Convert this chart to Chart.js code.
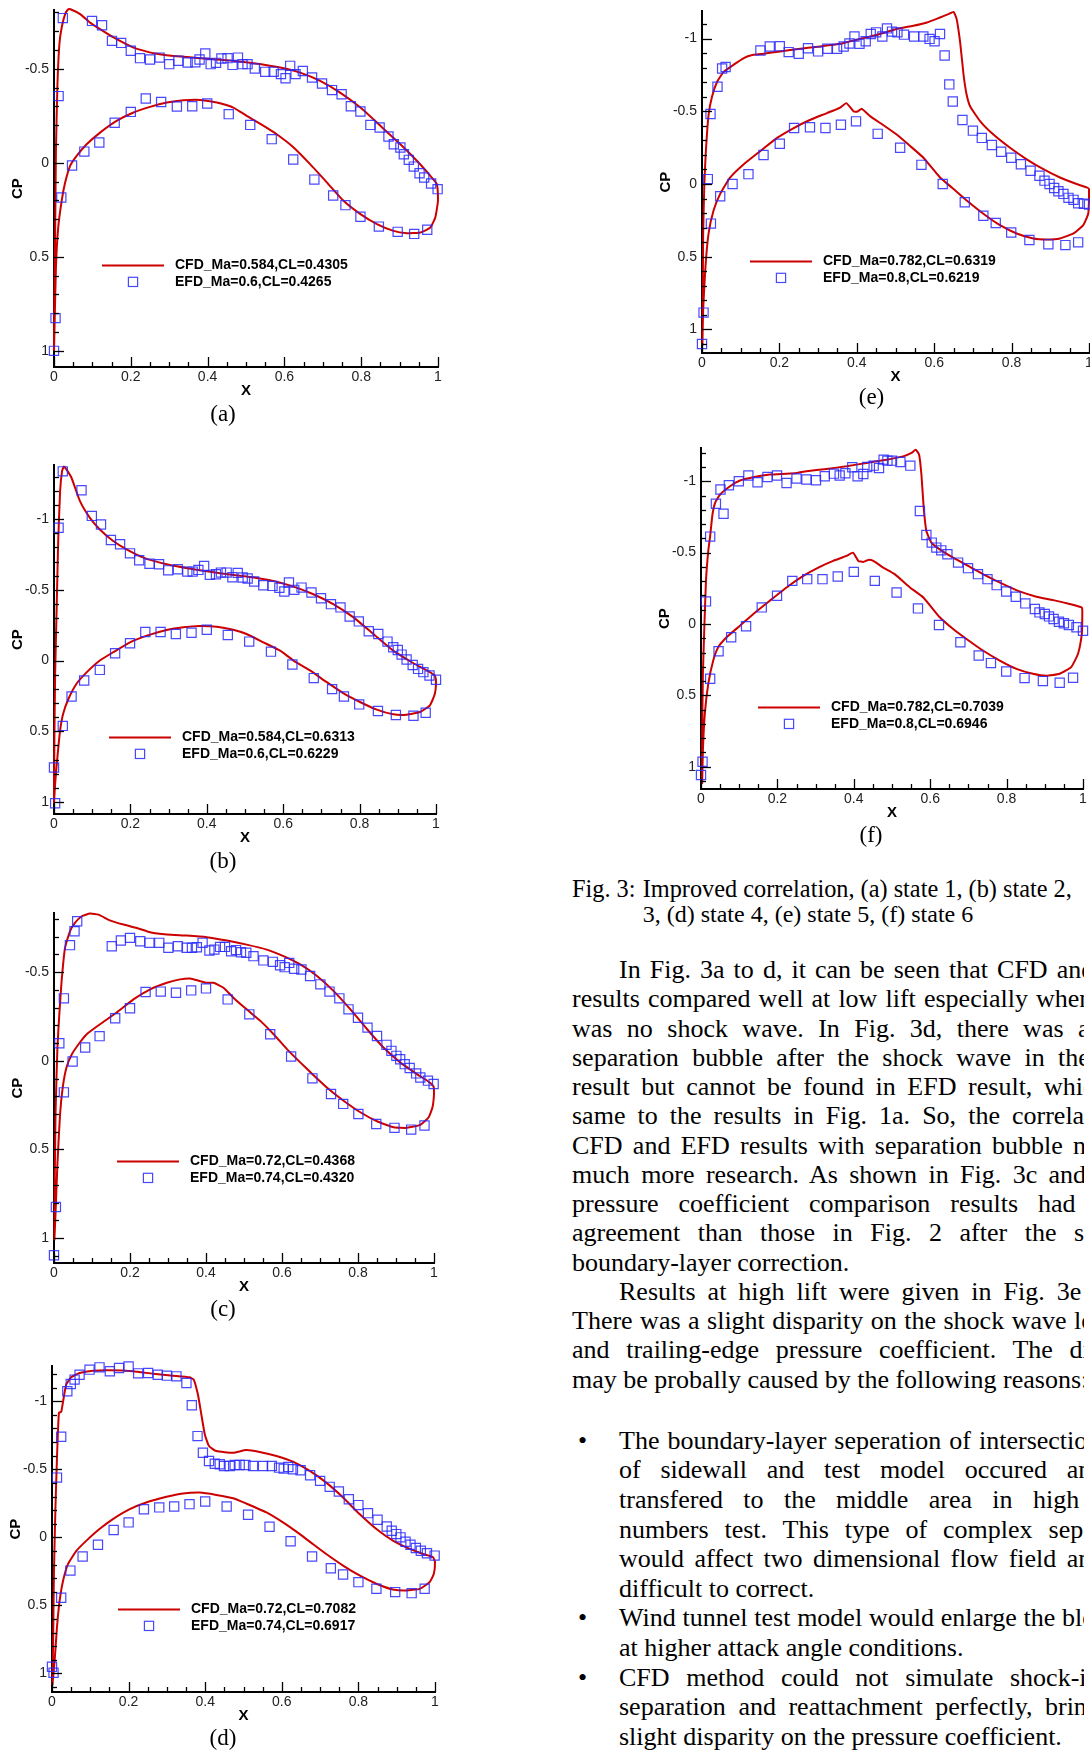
<!DOCTYPE html>
<html>
<head>
<meta charset="utf-8">
<script src="https://cdn.jsdelivr.net/npm/chart.js@4.4.1/dist/chart.umd.min.js"></script>
<style>
    body { margin: 0; background: #fff; }
    #page { position: relative; width: 1090px; height: 1752px; overflow: hidden; background: #fff; }
    #page canvas { position: absolute; }
    #column { position: absolute; left: 0; top: 0; width: 1084px; height: 1752px; overflow: hidden; }
    .txt { position: absolute; white-space: nowrap; color: #000; font-family: "Liberation Serif", "Times New Roman", serif; }
</style>
</head>
<body>
<div id="page"><div id="column"></div></div>
<script>
// x stations and Cp, one pair [x, Cp] per point
const xTicks = [0, 0.2, 0.4, 0.6, 0.8, 1];

const cfdA = [[0,1.0],[0.001,0.734],[0.003,0.379],[0.005,-0.064],[0.009,-0.418],[0.014,-0.631],[0.02,-0.72],[0.029,-0.791],[0.037,-0.817],[0.043,-0.817],[0.068,-0.791],[0.094,-0.746],[0.12,-0.711],[0.155,-0.667],[0.207,-0.613],[0.259,-0.583],[0.311,-0.569],[0.381,-0.557],[0.45,-0.546],[0.52,-0.53],[0.589,-0.507],[0.641,-0.48],[0.693,-0.436],[0.745,-0.374],[0.798,-0.294],[0.85,-0.197],[0.902,-0.099],[0.945,-0.011],[0.98,0.069],[0.997,0.113],[1.0,0.2],[0.993,0.29],[0.98,0.344],[0.954,0.371],[0.919,0.374],[0.884,0.362],[0.841,0.326],[0.798,0.273],[0.754,0.202],[0.711,0.105],[0.667,0.007],[0.624,-0.082],[0.58,-0.152],[0.546,-0.197],[0.502,-0.25],[0.467,-0.294],[0.424,-0.321],[0.381,-0.335],[0.337,-0.333],[0.294,-0.321],[0.25,-0.298],[0.207,-0.268],[0.163,-0.223],[0.12,-0.161],[0.085,-0.099],[0.059,-0.037],[0.042,0.016],[0.029,0.105],[0.02,0.202],[0.011,0.344],[0.005,0.557],[0.001,0.911],[0,1.0]];
const efdA = [[0,1.0],[0.004,0.826],[0.012,-0.355],[0.023,-0.77],[0.099,-0.755],[0.125,-0.732],[0.151,-0.649],[0.175,-0.638],[0.2,-0.596],[0.224,-0.557],[0.25,-0.55],[0.275,-0.56],[0.3,-0.525],[0.324,-0.543],[0.348,-0.534],[0.368,-0.535],[0.379,-0.55],[0.394,-0.582],[0.408,-0.525],[0.422,-0.532],[0.436,-0.555],[0.452,-0.557],[0.465,-0.521],[0.479,-0.56],[0.491,-0.525],[0.504,-0.525],[0.523,-0.502],[0.55,-0.484],[0.572,-0.484],[0.591,-0.472],[0.603,-0.45],[0.615,-0.516],[0.629,-0.472],[0.648,-0.489],[0.672,-0.454],[0.698,-0.422],[0.724,-0.387],[0.749,-0.365],[0.773,-0.301],[0.798,-0.273],[0.824,-0.202],[0.848,-0.188],[0.871,-0.14],[0.885,-0.099],[0.902,-0.082],[0.911,-0.046],[0.924,-0.016],[0.937,0.02],[0.952,0.055],[0.964,0.078],[0.982,0.11],[0.999,0.14],[0.019,0.184],[0.047,0.014],[0.079,-0.06],[0.118,-0.108],[0.158,-0.213],[0.2,-0.271],[0.239,-0.342],[0.279,-0.324],[0.32,-0.3],[0.36,-0.301],[0.399,-0.316],[0.455,-0.259],[0.511,-0.202],[0.567,-0.126],[0.623,-0.018],[0.678,0.089],[0.727,0.174],[0.759,0.225],[0.798,0.287],[0.846,0.339],[0.895,0.367],[0.938,0.378],[0.972,0.356]];

const cfdB = [[0,1.009],[0.001,0.563],[0.003,0.094],[0.007,-0.376],[0.011,-0.845],[0.016,-1.197],[0.021,-1.338],[0.026,-1.373],[0.033,-1.35],[0.046,-1.291],[0.068,-1.127],[0.094,-1.009],[0.12,-0.927],[0.155,-0.845],[0.19,-0.786],[0.234,-0.728],[0.295,-0.681],[0.365,-0.646],[0.435,-0.617],[0.504,-0.594],[0.574,-0.563],[0.627,-0.523],[0.679,-0.469],[0.731,-0.399],[0.784,-0.305],[0.836,-0.188],[0.888,-0.07],[0.941,0.019],[0.976,0.07],[0.997,0.106],[1.0,0.141],[0.997,0.235],[0.984,0.317],[0.958,0.364],[0.923,0.383],[0.888,0.38],[0.845,0.347],[0.801,0.293],[0.757,0.23],[0.714,0.153],[0.67,0.07],[0.627,0.0],[0.592,-0.07],[0.548,-0.129],[0.504,-0.188],[0.469,-0.218],[0.426,-0.239],[0.382,-0.244],[0.339,-0.235],[0.295,-0.216],[0.243,-0.176],[0.199,-0.129],[0.155,-0.059],[0.12,0.0],[0.086,0.082],[0.059,0.164],[0.038,0.27],[0.024,0.376],[0.016,0.493],[0.009,0.681],[0.003,0.869],[0,1.009]];
const efdB = [[0.003,1.009],[0,0.756],[0.012,-0.939],[0.023,-1.338],[0.072,-1.204],[0.099,-1.023],[0.123,-0.962],[0.149,-0.852],[0.173,-0.822],[0.199,-0.758],[0.223,-0.709],[0.25,-0.685],[0.275,-0.681],[0.299,-0.638],[0.324,-0.646],[0.349,-0.629],[0.363,-0.629],[0.378,-0.641],[0.393,-0.669],[0.408,-0.606],[0.424,-0.61],[0.437,-0.622],[0.452,-0.622],[0.467,-0.589],[0.481,-0.62],[0.494,-0.587],[0.507,-0.58],[0.524,-0.559],[0.548,-0.533],[0.572,-0.528],[0.59,-0.514],[0.603,-0.488],[0.615,-0.552],[0.629,-0.5],[0.648,-0.516],[0.674,-0.481],[0.699,-0.441],[0.725,-0.399],[0.75,-0.376],[0.774,-0.312],[0.798,-0.277],[0.824,-0.207],[0.849,-0.188],[0.873,-0.134],[0.888,-0.094],[0.9,-0.075],[0.91,-0.042],[0.923,-0.007],[0.939,0.031],[0.953,0.059],[0.967,0.082],[0.983,0.106],[1.0,0.136],[0.023,0.462],[0.046,0.254],[0.079,0.141],[0.12,0.066],[0.16,-0.052],[0.199,-0.122],[0.239,-0.202],[0.279,-0.202],[0.319,-0.188],[0.36,-0.197],[0.4,-0.218],[0.455,-0.181],[0.511,-0.134],[0.568,-0.063],[0.624,0.028],[0.68,0.124],[0.728,0.202],[0.759,0.254],[0.799,0.31],[0.848,0.357],[0.895,0.385],[0.941,0.39],[0.973,0.369]];

const cfdC = [[0.001,1.011],[0.002,0.674],[0.004,0.3],[0.009,-0.075],[0.014,-0.262],[0.02,-0.449],[0.029,-0.637],[0.042,-0.73],[0.055,-0.777],[0.073,-0.815],[0.095,-0.83],[0.117,-0.824],[0.147,-0.792],[0.183,-0.768],[0.218,-0.749],[0.253,-0.725],[0.297,-0.712],[0.349,-0.706],[0.402,-0.697],[0.455,-0.678],[0.507,-0.655],[0.56,-0.627],[0.604,-0.59],[0.648,-0.543],[0.692,-0.478],[0.736,-0.393],[0.78,-0.29],[0.824,-0.178],[0.867,-0.075],[0.911,0.009],[0.955,0.075],[0.986,0.118],[0.999,0.146],[1.0,0.187],[0.996,0.262],[0.986,0.318],[0.964,0.361],[0.929,0.378],[0.894,0.375],[0.85,0.341],[0.806,0.29],[0.762,0.225],[0.718,0.15],[0.683,0.081],[0.648,0.009],[0.613,-0.066],[0.578,-0.15],[0.543,-0.225],[0.507,-0.29],[0.472,-0.356],[0.446,-0.412],[0.42,-0.44],[0.402,-0.44],[0.385,-0.449],[0.358,-0.464],[0.332,-0.459],[0.297,-0.44],[0.253,-0.403],[0.209,-0.346],[0.165,-0.272],[0.121,-0.206],[0.086,-0.15],[0.068,-0.103],[0.047,-0.037],[0.033,0.037],[0.023,0.15],[0.016,0.3],[0.009,0.581],[0.004,0.861],[0.001,1.011]];
const efdC = [[0,1.096],[0.005,0.824],[0.014,-0.099],[0.026,-0.352],[0.042,-0.652],[0.054,-0.73],[0.061,-0.787],[0.152,-0.646],[0.176,-0.678],[0.2,-0.693],[0.227,-0.674],[0.251,-0.665],[0.277,-0.665],[0.301,-0.637],[0.326,-0.646],[0.349,-0.637],[0.363,-0.637],[0.376,-0.64],[0.391,-0.665],[0.409,-0.622],[0.422,-0.627],[0.437,-0.642],[0.45,-0.642],[0.466,-0.618],[0.479,-0.624],[0.492,-0.612],[0.506,-0.609],[0.525,-0.59],[0.551,-0.566],[0.576,-0.558],[0.595,-0.539],[0.607,-0.528],[0.619,-0.552],[0.632,-0.519],[0.651,-0.515],[0.674,-0.478],[0.701,-0.431],[0.725,-0.39],[0.751,-0.352],[0.775,-0.29],[0.8,-0.243],[0.825,-0.187],[0.85,-0.14],[0.875,-0.09],[0.888,-0.056],[0.901,-0.028],[0.911,-0.009],[0.923,0.019],[0.936,0.041],[0.953,0.071],[0.964,0.094],[0.984,0.112],[0.999,0.131],[0.026,0.178],[0.049,0.004],[0.082,-0.075],[0.12,-0.139],[0.161,-0.24],[0.2,-0.296],[0.241,-0.388],[0.281,-0.39],[0.321,-0.384],[0.361,-0.397],[0.4,-0.408],[0.457,-0.346],[0.514,-0.262],[0.569,-0.15],[0.624,-0.024],[0.68,0.099],[0.729,0.187],[0.761,0.243],[0.801,0.3],[0.848,0.356],[0.896,0.378],[0.94,0.388],[0.975,0.365]];

const cfdD = [[0.001,1.085],[0.003,0.756],[0.005,0.268],[0.009,-0.22],[0.013,-0.585],[0.018,-0.915],[0.024,-0.922],[0.029,-1.0],[0.037,-1.122],[0.05,-1.176],[0.072,-1.207],[0.107,-1.224],[0.151,-1.227],[0.211,-1.22],[0.264,-1.202],[0.316,-1.188],[0.359,-1.176],[0.37,-1.159],[0.381,-1.049],[0.39,-0.902],[0.399,-0.756],[0.41,-0.671],[0.429,-0.634],[0.473,-0.622],[0.507,-0.641],[0.542,-0.627],[0.586,-0.598],[0.629,-0.556],[0.673,-0.488],[0.716,-0.402],[0.76,-0.293],[0.803,-0.171],[0.847,-0.061],[0.89,0.024],[0.934,0.085],[0.969,0.122],[0.995,0.146],[1.0,0.183],[0.997,0.268],[0.986,0.329],[0.96,0.378],[0.925,0.39],[0.89,0.383],[0.847,0.341],[0.803,0.28],[0.76,0.207],[0.716,0.122],[0.681,0.049],[0.647,-0.024],[0.603,-0.11],[0.56,-0.183],[0.507,-0.249],[0.473,-0.288],[0.429,-0.312],[0.386,-0.329],[0.342,-0.322],[0.299,-0.298],[0.246,-0.256],[0.203,-0.207],[0.159,-0.134],[0.124,-0.061],[0.09,0.024],[0.064,0.098],[0.042,0.195],[0.029,0.317],[0.02,0.463],[0.013,0.659],[0.007,0.902],[0.001,1.085]];
const efdD = [[0,0.951],[0.004,0.995],[0.013,-0.439],[0.024,-0.739],[0.04,-1.073],[0.049,-1.127],[0.059,-1.159],[0.072,-1.195],[0.098,-1.232],[0.124,-1.249],[0.151,-1.22],[0.175,-1.244],[0.2,-1.256],[0.225,-1.205],[0.251,-1.207],[0.276,-1.195],[0.3,-1.188],[0.325,-1.183],[0.351,-1.134],[0.365,-0.971],[0.38,-0.744],[0.394,-0.622],[0.41,-0.561],[0.425,-0.541],[0.438,-0.537],[0.449,-0.524],[0.464,-0.524],[0.477,-0.532],[0.49,-0.532],[0.505,-0.532],[0.525,-0.524],[0.551,-0.524],[0.574,-0.524],[0.593,-0.512],[0.605,-0.505],[0.617,-0.517],[0.629,-0.5],[0.649,-0.493],[0.674,-0.456],[0.7,-0.415],[0.725,-0.371],[0.749,-0.337],[0.775,-0.28],[0.8,-0.237],[0.825,-0.178],[0.85,-0.129],[0.874,-0.08],[0.887,-0.049],[0.899,-0.024],[0.91,0.0],[0.923,0.032],[0.936,0.054],[0.95,0.078],[0.963,0.098],[0.979,0.117],[0.999,0.134],[0.024,0.444],[0.048,0.244],[0.08,0.141],[0.12,0.054],[0.161,-0.054],[0.2,-0.11],[0.24,-0.207],[0.28,-0.22],[0.319,-0.227],[0.359,-0.244],[0.4,-0.263],[0.456,-0.227],[0.512,-0.166],[0.568,-0.078],[0.623,0.029],[0.679,0.141],[0.728,0.227],[0.76,0.273],[0.8,0.329],[0.847,0.378],[0.896,0.402],[0.939,0.41],[0.973,0.378]];

const cfdE = [[0.001,1.111],[0.002,0.794],[0.003,0.34],[0.006,0.0],[0.01,-0.227],[0.017,-0.476],[0.026,-0.601],[0.039,-0.703],[0.056,-0.771],[0.082,-0.821],[0.108,-0.866],[0.125,-0.884],[0.159,-0.896],[0.202,-0.912],[0.254,-0.93],[0.306,-0.946],[0.357,-0.964],[0.409,-0.998],[0.46,-1.032],[0.503,-1.066],[0.546,-1.088],[0.581,-1.111],[0.615,-1.145],[0.637,-1.168],[0.65,-1.184],[0.658,-1.134],[0.667,-0.975],[0.676,-0.748],[0.684,-0.612],[0.693,-0.533],[0.719,-0.431],[0.753,-0.34],[0.796,-0.249],[0.839,-0.17],[0.882,-0.102],[0.925,-0.045],[0.968,0.0],[0.994,0.023],[1.0,0.034],[1.0,0.113],[0.998,0.204],[0.985,0.283],[0.96,0.34],[0.925,0.374],[0.891,0.381],[0.856,0.374],[0.813,0.34],[0.77,0.283],[0.727,0.204],[0.684,0.113],[0.65,0.034],[0.615,-0.045],[0.572,-0.181],[0.538,-0.261],[0.503,-0.34],[0.469,-0.404],[0.435,-0.465],[0.413,-0.517],[0.402,-0.499],[0.392,-0.499],[0.373,-0.556],[0.357,-0.526],[0.323,-0.488],[0.28,-0.442],[0.237,-0.385],[0.194,-0.317],[0.151,-0.227],[0.108,-0.136],[0.073,-0.045],[0.047,0.068],[0.03,0.181],[0.017,0.34],[0.009,0.567],[0.003,0.862],[0.001,1.111]];
const efdE = [[0,1.1],[0.004,0.884],[0.015,-0.034],[0.022,-0.481],[0.04,-0.669],[0.052,-0.794],[0.061,-0.805],[0.151,-0.918],[0.175,-0.946],[0.201,-0.948],[0.224,-0.907],[0.25,-0.896],[0.274,-0.934],[0.3,-0.912],[0.324,-0.93],[0.349,-0.93],[0.366,-0.946],[0.381,-0.966],[0.394,-1.014],[0.407,-0.964],[0.423,-0.982],[0.436,-1.032],[0.45,-1.043],[0.466,-1.014],[0.478,-1.07],[0.491,-1.048],[0.505,-1.043],[0.522,-1.027],[0.548,-1.014],[0.572,-1.014],[0.588,-0.998],[0.601,-0.982],[0.615,-1.032],[0.627,-0.884],[0.639,-0.685],[0.648,-0.567],[0.673,-0.44],[0.7,-0.367],[0.723,-0.317],[0.749,-0.268],[0.773,-0.222],[0.799,-0.181],[0.824,-0.136],[0.849,-0.091],[0.872,-0.057],[0.885,-0.023],[0.898,0.0],[0.91,0.027],[0.921,0.05],[0.934,0.068],[0.947,0.095],[0.96,0.109],[0.972,0.132],[0.987,0.136],[1.0,0.141],[0.023,0.272],[0.047,0.084],[0.079,0.0],[0.12,-0.068],[0.159,-0.2],[0.201,-0.277],[0.238,-0.385],[0.279,-0.39],[0.319,-0.385],[0.359,-0.408],[0.398,-0.431],[0.454,-0.345],[0.512,-0.249],[0.567,-0.132],[0.622,0.0],[0.679,0.125],[0.727,0.218],[0.759,0.268],[0.799,0.333],[0.846,0.385],[0.895,0.415],[0.939,0.42],[0.972,0.401]];

const cfdF = [[0.003,1.12],[0.003,0.814],[0.005,0.349],[0.009,0.0],[0.013,-0.302],[0.019,-0.512],[0.024,-0.616],[0.03,-0.767],[0.037,-0.849],[0.05,-0.907],[0.076,-0.965],[0.102,-1.005],[0.137,-1.028],[0.18,-1.047],[0.224,-1.053],[0.25,-1.058],[0.276,-1.07],[0.329,-1.086],[0.381,-1.105],[0.433,-1.128],[0.486,-1.151],[0.529,-1.174],[0.551,-1.198],[0.562,-1.221],[0.571,-1.186],[0.577,-1.047],[0.583,-0.814],[0.59,-0.651],[0.603,-0.57],[0.625,-0.523],[0.66,-0.465],[0.704,-0.4],[0.747,-0.337],[0.791,-0.279],[0.834,-0.228],[0.878,-0.191],[0.922,-0.167],[0.965,-0.14],[0.996,-0.116],[0.998,-0.105],[0.998,-0.023],[0.997,0.07],[0.987,0.209],[0.969,0.302],[0.939,0.349],[0.904,0.363],[0.869,0.349],[0.826,0.314],[0.782,0.256],[0.738,0.186],[0.695,0.105],[0.66,0.035],[0.625,-0.047],[0.582,-0.186],[0.547,-0.256],[0.507,-0.349],[0.477,-0.395],[0.451,-0.442],[0.438,-0.449],[0.425,-0.435],[0.412,-0.442],[0.398,-0.5],[0.381,-0.477],[0.346,-0.442],[0.311,-0.4],[0.268,-0.337],[0.224,-0.256],[0.18,-0.163],[0.137,-0.07],[0.102,0.012],[0.067,0.093],[0.045,0.163],[0.032,0.256],[0.019,0.419],[0.01,0.628],[0.005,0.884],[0.003,1.12]];
const efdF = [[0,1.058],[0.004,0.965],[0.013,-0.158],[0.024,-0.612],[0.039,-0.842],[0.051,-0.942],[0.059,-0.772],[0.073,-0.972],[0.099,-1.0],[0.124,-1.04],[0.148,-0.993],[0.174,-1.03],[0.199,-1.04],[0.224,-0.988],[0.25,-1.019],[0.276,-1.012],[0.301,-1.007],[0.324,-1.035],[0.348,-1.053],[0.363,-1.04],[0.378,-1.056],[0.396,-1.098],[0.41,-1.035],[0.425,-1.051],[0.435,-1.1],[0.452,-1.109],[0.466,-1.093],[0.478,-1.151],[0.488,-1.144],[0.5,-1.144],[0.522,-1.135],[0.548,-1.109],[0.573,-0.791],[0.59,-0.623],[0.604,-0.57],[0.616,-0.535],[0.629,-0.516],[0.645,-0.488],[0.673,-0.43],[0.699,-0.391],[0.725,-0.349],[0.75,-0.314],[0.774,-0.272],[0.799,-0.228],[0.824,-0.191],[0.849,-0.144],[0.874,-0.105],[0.886,-0.081],[0.9,-0.07],[0.911,-0.053],[0.923,-0.035],[0.937,-0.016],[0.95,-0.005],[0.963,0.007],[0.983,0.023],[1.0,0.047],[0.024,0.384],[0.046,0.191],[0.079,0.093],[0.118,0.016],[0.159,-0.116],[0.199,-0.198],[0.239,-0.302],[0.278,-0.314],[0.318,-0.314],[0.358,-0.333],[0.4,-0.365],[0.455,-0.302],[0.512,-0.221],[0.568,-0.109],[0.623,0.007],[0.679,0.128],[0.727,0.221],[0.759,0.274],[0.799,0.333],[0.847,0.379],[0.895,0.4],[0.939,0.412],[0.974,0.377]];

// plot boxes in page pixels (left, right, top, bottom) and the Cp range they cover
const panels = [
    { tag: '(a)', box: [54, 438, 9, 367], yMin: -0.811, yMax: 1.086, yTicks: [-0.5, 0, 0.5, 1],
      cfd: cfdA, efd: efdA, names: ['CFD_Ma=0.584,CL=0.4305', 'EFD_Ma=0.6,CL=0.4265'], legend: [48, 255], cap: [223, 414] },
    { tag: '(b)', box: [54, 436, 464, 814], yMin: -1.38, yMax: 1.085, yTicks: [-1, -0.5, 0, 0.5, 1],
      cfd: cfdB, efd: efdB, names: ['CFD_Ma=0.584,CL=0.6313', 'EFD_Ma=0.6,CL=0.6229'], legend: [55, 272], cap: [223, 861] },
    { tag: '(c)', box: [54, 434, 912, 1263], yMin: -0.831, yMax: 1.14, yTicks: [-0.5, 0, 0.5, 1],
      cfd: cfdC, efd: efdC, names: ['CFD_Ma=0.72,CL=0.4368', 'EFD_Ma=0.74,CL=0.4320'], legend: [63, 248], cap: [223, 1309] },
    { tag: '(d)', box: [52, 435, 1365, 1692], yMin: -1.256, yMax: 1.136, yTicks: [-1, -0.5, 0, 0.5, 1],
      cfd: cfdD, efd: efdD, names: ['CFD_Ma=0.72,CL=0.7082', 'EFD_Ma=0.74,CL=0.6917'], legend: [66, 243], cap: [223, 1738] },
    { tag: '(e)', box: [702, 1089, 10, 353], yMin: -1.187, yMax: 1.162, yTicks: [-1, -0.5, 0, 0.5, 1],
      cfd: cfdE, efd: efdE, names: ['CFD_Ma=0.782,CL=0.6319', 'EFD_Ma=0.8,CL=0.6219'], legend: [48, 250], cap: [871.5, 397] },
    { tag: '(f)', box: [701, 1083, 447, 789], yMin: -1.23, yMax: 1.156, yTicks: [-1, -0.5, 0, 0.5, 1],
      cfd: cfdF, efd: efdF, names: ['CFD_Ma=0.782,CL=0.7039', 'EFD_Ma=0.8,CL=0.6946'], legend: [57, 259], cap: [871, 835] }
];

const RED = '#cc0000';
const BLUE = 'rgba(40,40,255,0.85)';
const page = document.getElementById('page');
const column = document.getElementById('column');

Chart.defaults.font.family = '"Liberation Sans", Arial, sans-serif';

// inward ticks (Tecplot style) and the two-row legend
const cpDecor = {
    id: 'cpDecor',
    afterDraw(chart, args, opts) {
        const ctx = chart.ctx;
        const area = chart.chartArea;
        const xs = chart.scales.x, ys = chart.scales.y;
        ctx.save();
        ctx.strokeStyle = '#000';
        ctx.lineWidth = 1.3;
        for (let i = 0; i <= 20; i++) {
            const px = Math.round(xs.getPixelForValue(i / 20)) + 0.5;
            const len = i % 4 === 0 ? 10 : 5;
            ctx.beginPath();
            ctx.moveTo(px, area.bottom);
            ctx.lineTo(px, area.bottom - len);
            ctx.stroke();
        }
        for (let k = Math.ceil(ys.min * 10); k <= Math.floor(ys.max * 10); k++) {
            const py = Math.round(ys.getPixelForValue(k / 10)) + 0.5;
            const len = k % 5 === 0 ? 10 : 5;
            ctx.beginPath();
            ctx.moveTo(area.left, py);
            ctx.lineTo(area.left + len, py);
            ctx.stroke();
        }

        const lx = area.left + opts.at[0];
        const ly = area.top + opts.at[1];
        const names = chart.data.datasets.map(d => d.label);
        ctx.strokeStyle = RED;
        ctx.lineWidth = 2;
        ctx.beginPath();
        ctx.moveTo(lx, ly);
        ctx.lineTo(lx + 62, ly);
        ctx.stroke();
        ctx.strokeStyle = BLUE;
        ctx.lineWidth = 1.2;
        ctx.strokeRect(lx + 31 - 4.6, ly + 16.5 - 4.6, 9.2, 9.2);
        ctx.fillStyle = '#000';
        ctx.font = 'bold 14px "Liberation Sans", Arial, sans-serif';
        ctx.textBaseline = 'middle';
        ctx.fillText(names[1], lx + 73, ly);
        ctx.fillText(names[0], lx + 73, ly + 16.5);
        ctx.restore();
    }
};

panels.forEach(p => {
    const [L, R, T, B] = p.box;
    const canvas = document.createElement('canvas');
    canvas.width = R - L + 64;
    canvas.height = B - T + 60;
    canvas.style.left = (L - 50) + 'px';
    canvas.style.top = (T - 12) + 'px';
    page.appendChild(canvas);

    new Chart(canvas.getContext('2d'), {
        type: 'scatter',
        data: {
            datasets: [{
                label: p.names[1],
                data: p.efd.map(d => ({ x: d[0], y: d[1] })),
                pointStyle: 'rect',
                pointRadius: 6.5,
                borderColor: BLUE,
                borderWidth: 1.2,
                backgroundColor: 'rgba(0,0,0,0)',
                clip: false,
                order: 1
            }, {
                label: p.names[0],
                data: p.cfd.map(d => ({ x: d[0], y: d[1] })),
                showLine: true,
                borderColor: RED,
                borderWidth: 2,
                pointRadius: 0,
                tension: 0.15,
                clip: false,
                order: 2
            }]
        },
        options: {
            responsive: false,
            animation: false,
            events: [],
            layout: { padding: { top: 12, right: 14, left: 0, bottom: 0 } },
            scales: {
                x: {
                    type: 'linear', min: 0, max: 1,
                    grid: { display: false, drawTicks: false },
                    border: { display: true, color: '#000', width: 2 },
                    afterBuildTicks: s => { s.ticks = xTicks.map(v => ({ value: v })); },
                    afterFit: s => { s.height = 48; },
                    ticks: { padding: 2, color: '#222', font: { size: 14 }, autoSkip: false, maxRotation: 0, callback: v => String(v) },
                    title: { display: true, text: 'X', color: '#000', font: { size: 15, weight: 'bold' }, padding: { top: 0, bottom: 15.5 } }
                },
                y: {
                    type: 'linear', reverse: true, min: p.yMin, max: p.yMax,
                    grid: { display: false, drawTicks: false },
                    border: { display: true, color: '#000', width: 2 },
                    afterBuildTicks: s => { s.ticks = p.yTicks.map(v => ({ value: v })); },
                    afterFit: s => { s.width = 50; },
                    ticks: { padding: 5, color: '#222', font: { size: 14 }, autoSkip: false, callback: v => String(v) },
                    title: { display: true, text: 'CP', color: '#000', font: { size: 15, weight: 'bold' }, padding: { top: 5.3, bottom: 0 } }
                }
            },
            plugins: {
                legend: { display: false },
                tooltip: { enabled: false },
                cpDecor: { at: p.legend }
            }
        },
        plugins: [cpDecor]
    });

    const cap = document.createElement('div');
    cap.className = 'txt';
    cap.textContent = p.tag;
    cap.style.fontSize = '23px';
    cap.style.lineHeight = '26px';
    cap.style.width = '80px';
    cap.style.textAlign = 'center';
    cap.style.left = (p.cap[0] - 40) + 'px';
    cap.style.top = (p.cap[1] - 13) + 'px';
    page.appendChild(cap);
});

// text column: [left, baseline, text, x where the last visible word starts (justified lines), font size]
const bodyLines = [
    [572, 897, 'Fig. 3:', null, 24.3],
    [642.7, 897, 'Improved correlation, (a) state 1, (b) state 2,', null, 24.3],
    [642.7, 922.5, '3, (d) state 4, (e) state 5, (f) state 6', null, 24],
    [619, 979, 'In Fig. 3a to d, it can be seen that CFD and', 1056.7],
    [572, 1008.25, 'results compared well at low lift especially when', 1036],
    [572, 1037.5, 'was no shock wave. In Fig. 3d, there was a', 1078],
    [572, 1066.75, 'separation bubble after the shock wave in the', 1058],
    [572, 1096, 'result but cannot be found in EFD result, which', 1044],
    [572, 1125.25, 'same to the results in Fig. 1a. So, the correlation', 1012],
    [572, 1154.5, 'CFD and EFD results with separation bubble needs', 1073],
    [572, 1183.75, 'much more research. As shown in Fig. 3c and', 1050],
    [572, 1213, 'pressure coefficient comparison results had', 1038],
    [572, 1242.25, 'agreement than those in Fig. 2 after the sidewall', 1074],
    [572, 1271.5, 'boundary-layer correction.', null],
    [619, 1300.75, 'Results at high lift were given in Fig. 3e', 1056.7],
    [572, 1330, 'There was a slight disparity on the shock wave location', 1074],
    [572, 1359.25, 'and trailing-edge pressure coefficient. The disparity', 1070],
    [572, 1388.5, 'may be probally caused by the following reasons:', null],
    [578, 1449.5, '\u2022', null],
    [619, 1449.5, 'The boundary-layer seperation of intersection', 979],
    [619, 1479.1, 'of sidewall and test model occured and', 1066.7],
    [619, 1508.7, 'transfered to the middle area in high', 1033],
    [619, 1538.3, 'numbers test. This type of complex seperation', 1049],
    [619, 1567.9, 'would affect two dimensional flow field and', 1066.7],
    [619, 1597.5, 'difficult to correct.', null],
    [578, 1627.1, '\u2022', null],
    [619, 1627.1, 'Wind tunnel test model would enlarge the blockage', 1062],
    [619, 1656.7, 'at higher attack angle conditions.', null],
    [578, 1686.3, '\u2022', null],
    [619, 1686.3, 'CFD method could not simulate shock-induced', 1010],
    [619, 1715.9, 'separation and reattachment perfectly, bringing', 1045],
    [619, 1745.5, 'slight disparity on the pressure coefficient.', null]
];

const meter = document.createElement('canvas').getContext('2d');
bodyLines.forEach(([x, base, text, lastX, size]) => {
    const fs = size || 26;
    const lh = Math.round(fs * 1.15);
    const el = document.createElement('div');
    el.className = 'txt';
    el.textContent = text;
    el.style.fontSize = fs + 'px';
    el.style.lineHeight = lh + 'px';
    el.style.left = x + 'px';
    el.style.top = (base - ((lh - 1.107 * fs) / 2 + 0.891 * fs)) + 'px';
    if (lastX) {
        meter.font = fs + 'px "Liberation Serif"';
        const head = text.slice(0, text.lastIndexOf(' ') + 1);
        const gaps = head.split(' ').length - 1;
        const extra = (lastX - x - meter.measureText(head).width) / gaps;
        el.style.wordSpacing = extra.toFixed(2) + 'px';
    }
    column.appendChild(el);
});
</script>
</body>
</html>
